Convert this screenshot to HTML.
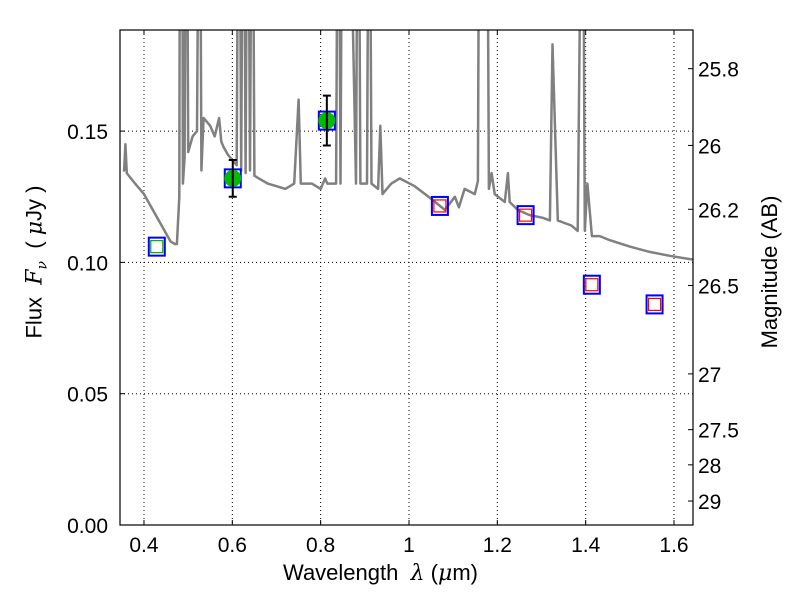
<!DOCTYPE html>
<html><head><meta charset="utf-8"><style>
body{margin:0;background:#fff}
svg{display:block;font-family:"Liberation Sans","DejaVu Sans",sans-serif}
</style></head><body>
<svg id="c" width="800" height="600"></svg>
<script>
const specLam=[0.352,0.355,0.358,0.361,0.38,0.40,0.42,0.44,0.46,0.47,0.4745,0.48,0.482,0.486,0.488,0.492,0.496,0.50,0.51,0.52,0.526,0.53,0.535,0.54,0.55,0.56,0.57,0.575,0.58,0.59,0.60,0.61,0.615,0.62,0.625,0.63,0.635,0.64,0.645,0.65,0.66,0.68,0.70,0.72,0.74,0.75,0.755,0.78,0.80,0.81,0.815,0.835,0.84,0.845,0.85,0.86,0.88,0.885,0.89,0.905,0.91,0.915,0.93,0.935,0.94,0.96,0.979,1.013,1.052,1.081,1.104,1.113,1.126,1.149,1.156,1.160,1.176,1.181,1.187,1.194,1.217,1.224,1.228,1.246,1.273,1.303,1.319,1.325,1.337,1.352,1.368,1.382,1.393,1.398,1.404,1.414,1.432,1.454,1.50,1.545,1.59,1.645];
const specF=[0.135,0.135,0.145,0.134,0.130,0.126,0.120,0.114,0.108,0.107,0.107,0.125,0.30,0.30,0.13,0.14,0.30,0.142,0.148,0.150,0.30,0.135,0.155,0.154,0.152,0.148,0.155,0.146,0.144,0.141,0.139,0.137,0.30,0.135,0.30,0.134,0.30,0.135,0.30,0.133,0.132,0.130,0.129,0.128,0.130,0.162,0.130,0.130,0.128,0.132,0.130,0.130,0.30,0.13,0.30,0.30,0.13,0.30,0.13,0.13,0.30,0.13,0.128,0.152,0.126,0.130,0.132,0.129,0.124,0.120,0.125,0.121,0.128,0.126,0.131,0.30,0.30,0.128,0.134,0.126,0.123,0.134,0.123,0.120,0.118,0.117,0.116,0.183,0.116,0.115,0.114,0.112,0.30,0.112,0.130,0.110,0.110,0.1085,0.106,0.104,0.1025,0.101];
const photLam=[0.429,0.601,0.814,1.07,1.264,1.414,1.556];
const photF=[0.106,0.132,0.154,0.1215,0.118,0.0915,0.084];
const detLam=[0.601,0.814];
const detF=[0.132,0.154];
const detErr=[0.007,0.0095];
const upLam=[1.07,1.264,1.414,1.556];
const upF=[0.1215,0.118,0.0915,0.084];
const xTicks=[0.4,0.6,0.8,1.0,1.2,1.4,1.6];
const xTickLabels=["0.4","0.6","0.8","1","1.2","1.4","1.6"];
const yTicks=[0,0.05,0.10,0.15];
const yTickLabels=["0.00","0.05","0.10","0.15"];
const magTicks=[25.8,26,26.2,26.5,27,27.5,28,29];
const magLabels=["25.8","26","26.2","26.5","27","27.5","28","29"];

const L=120,R=693,T=30,B=525;
const xMin=0.3457,xMax=1.643,yMin=0,yMax=0.1885;
const X=v=>L+(v-xMin)/(xMax-xMin)*(R-L);
const Y=v=>B-(v-yMin)/(yMax-yMin)*(B-T);
const svg=document.getElementById('c');
const NS="http://www.w3.org/2000/svg";
function mk(tag,attrs,parent){const e=document.createElementNS(NS,tag);for(const k in attrs)e.setAttribute(k,attrs[k]);(parent||svg).appendChild(e);return e;}
const defs=mk('defs',{});const cp=mk('clipPath',{id:'clip'},defs);mk('rect',{x:L,y:T,width:R-L,height:B-T},cp);

xTicks.forEach((t,i)=>{
 const g=mk('line',{x1:X(t),x2:X(t),y1:T,y2:B,stroke:'#000','stroke-dasharray':'1,3','stroke-width':1});
 
 mk('line',{x1:X(t),x2:X(t),y1:B,y2:B-5,stroke:'#000'});mk('line',{x1:X(t),x2:X(t),y1:T,y2:T+5,stroke:'#000'});
 const tx=mk('text',{x:X(t),y:B+27,'font-size':21,'text-anchor':'middle'});tx.textContent=xTickLabels[i];
 
});
yTicks.forEach((t,i)=>{
 if(t>0){const g=mk('line',{x1:L,x2:R,y1:Y(t),y2:Y(t),stroke:'#000','stroke-dasharray':'1,3','stroke-width':1});
 }
 mk('line',{x1:L,x2:L+5,y1:Y(t),y2:Y(t),stroke:'#000'});
 const tx=mk('text',{x:L-12,y:Y(t)+8,'font-size':21,'text-anchor':'end'});tx.textContent=yTickLabels[i];
 
});
magTicks.forEach((m,i)=>{
 const f=Math.pow(10,(23.9-m)/2.5);const y=Y(f);
 mk('line',{x1:R-5,x2:R,y1:y,y2:y,stroke:'#000'});
 const tx=mk('text',{x:R+5,y:y+8,'font-size':21});tx.textContent=magLabels[i];
 
});

let d='';specLam.forEach((l,i)=>{d+=(i?'L':'M')+X(l).toFixed(1)+','+Y(specF[i]).toFixed(1);});
const sp=mk('path',{d:d,fill:'none',stroke:'#808080','stroke-width':2.5,'clip-path':'url(#clip)','stroke-linejoin':'round'});


photLam.forEach((l,i)=>{
 const s=mk('rect',{x:X(l)-8,y:Y(photF[i])-9,width:16,height:18,fill:'none',stroke:'#0000ff','stroke-width':2});
 
});
{const s=mk('rect',{x:X(photLam[0])-6,y:Y(photF[0])-6,width:12,height:12,fill:'none',stroke:'#00aa00','stroke-width':1.2});
 }
upLam.forEach((l,i)=>{
 const s=mk('rect',{x:X(l)-6,y:Y(upF[i])-6,width:12,height:12,fill:'none',stroke:'#ff0000','stroke-width':1.2});
 
});
detLam.forEach((l,i)=>{
 const x=X(l),y1=Y(detF[i]-detErr[i]),y2=Y(detF[i]+detErr[i]);
 const c=mk('circle',{cx:x,cy:Y(detF[i]),r:8.5,fill:'#00bb00'});
 
 const e=mk('path',{d:`M${x},${y1}L${x},${y2}M${x-4},${y1}L${x+4},${y1}M${x-4},${y2}L${x+4},${y2}`,stroke:'#000','stroke-width':2});
 
});
const fr=mk('rect',{x:L,y:T,width:R-L,height:B-T,fill:'none',stroke:'#000','stroke-width':1.2});

</script>
<div style="position:absolute;left:0;top:0;width:800px;height:600px;pointer-events:none;font-family:'Liberation Sans','DejaVu Sans',sans-serif">
<div style="position:absolute;left:283px;top:560px;font-size:22px;white-space:nowrap">Wavelength &nbsp;<i style="font-family:'DejaVu Serif',serif">λ</i> (<i style="font-family:'DejaVu Serif',serif">μ</i>m)</div>
<div style="position:absolute;left:36px;top:262px;font-size:22px;transform:translate(-50%,-50%) rotate(-90deg);white-space:nowrap;">Flux &nbsp;<i style="font-family:'DejaVu Serif',serif">F<sub style="font-size:14px">ν</sub></i> &nbsp;( <i style="font-family:'DejaVu Serif',serif">μ</i>Jy )</div>
<div style="position:absolute;left:770px;top:272px;font-size:22px;transform:translate(-50%,-50%) rotate(-90deg);white-space:nowrap;">Magnitude (AB)</div>
</div>
</body></html>
